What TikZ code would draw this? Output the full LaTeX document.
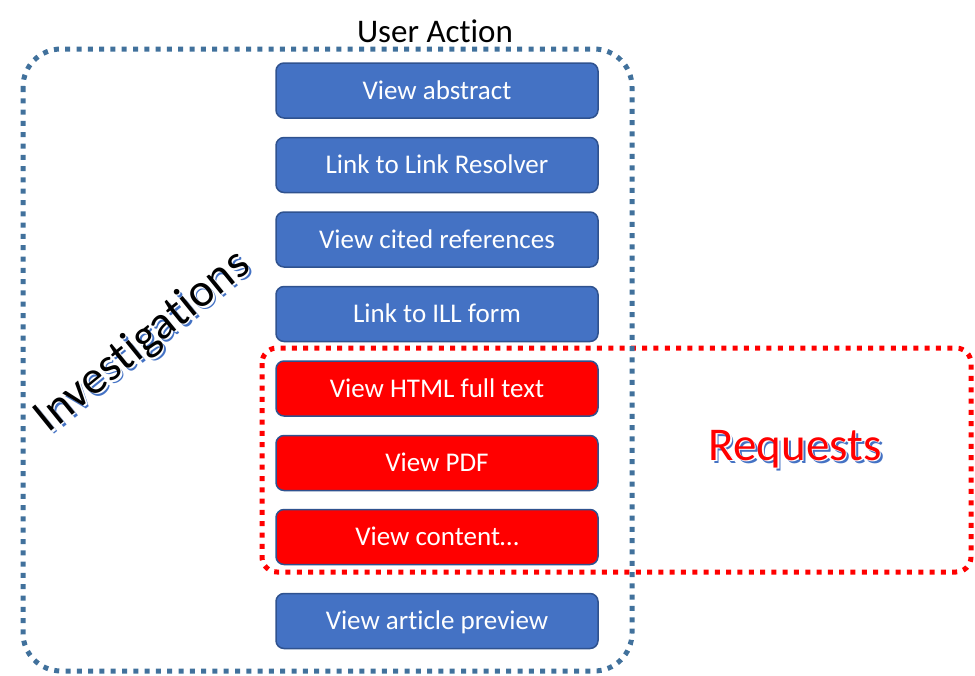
\documentclass[tikz,border=0pt]{standalone}
\usepackage{fontspec}
\setmainfont{Carlito}[RawFeature={-liga;-clig;-dlig;-calt}]
\definecolor{boxblue}{HTML}{4472C4}
\definecolor{boxedge}{HTML}{2F528F}
\definecolor{frameblue}{HTML}{41719C}
\begin{document}
\begin{tikzpicture}[x=1pt,y=-1pt,inner sep=0pt,outer sep=0pt,
actbox/.style={draw=boxedge,fill=boxblue,line width=1.5pt,rounded corners=8pt,minimum width=322pt,minimum height=55pt,text=white,font=\fontsize{27}{32}\selectfont,text height=17.4pt,text depth=0pt},
reqbox/.style={actbox,fill=red},
dotframe/.style={line width=5pt,dash pattern=on 5pt off 6.3pt},
bigtext/.style={font=\fontsize{47}{54}\selectfont}]
\useasboundingbox (0,0) rectangle (975,675);
\draw[dotframe,red,rounded corners=15pt] (262,348) rectangle (971,572);
\draw[dotframe,frameblue,rounded corners=38pt] (23,49) rectangle (632,671);
\draw (435,42) node[anchor=base,font=\fontsize{33}{40}\selectfont] (title) {User Action};
\draw (437,90.5) node[actbox] (abstract) {View abstract};
\draw (437,165) node[actbox] (resolver) {Link to Link Resolver};
\draw (437,239.5) node[actbox] (cited) {View cited references};
\draw (437,314) node[actbox] (ill) {Link to ILL form};
\draw (437,388.5) node[reqbox] (html) {View HTML full text};
\draw (437,463) node[reqbox] (pdf) {View PDF};
\draw (437,537) node[reqbox] (content) {View content\dots};
\draw (437,621) node[actbox] (preview) {View article preview};
% shadowed labels
\draw (146,345) node[bigtext,rotate=39,text=boxblue] (invshadow) {Investigations};
\draw (144.5,343.5) node[bigtext,rotate=39,text=white] (invgap) {Investigations};
\draw (143,342) node[bigtext,rotate=39] (inv) {Investigations};
\draw (798,463) node[anchor=base,bigtext,text=boxblue] (reqshadow) {Requests};
\draw (796.5,461.5) node[anchor=base,bigtext,text=white] (reqgap) {Requests};
\draw (795,460) node[anchor=base,bigtext,text=red] (req) {Requests};
\end{tikzpicture}
\end{document}
